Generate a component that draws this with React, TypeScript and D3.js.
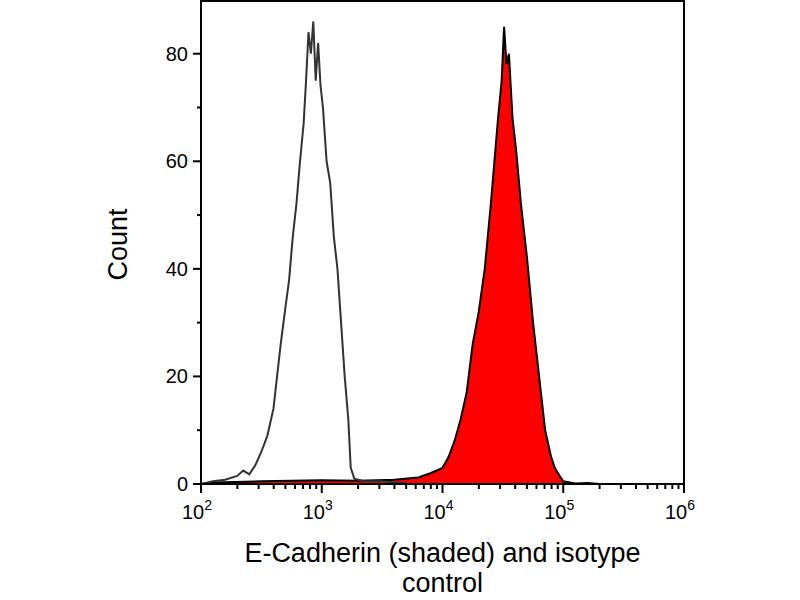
import * as d3 from "d3"

// log10(intensity), count
const isotypeLog = [2.0, 2.1, 2.2, 2.3, 2.35, 2.4, 2.45, 2.5, 2.55, 2.6, 2.63, 2.66, 2.7, 2.73, 2.76, 2.79, 2.82, 2.85, 2.87, 2.89, 2.91, 2.93, 2.95, 2.97, 2.99, 3.01, 3.04, 3.07, 3.1, 3.13, 3.16, 3.19, 3.22, 3.24, 3.27, 3.35, 3.5, 3.6, 3.7]
const isotypeCount = [0, 0.5, 0.8, 1.5, 2.5, 1.8, 3.5, 6, 9, 14, 20, 26, 33, 38, 46, 52, 60, 67, 75, 84, 80, 86, 75, 82, 74, 70, 60, 56, 46, 40, 30, 20, 12, 3, 1, 0.5, 0.5, 0.3, 0.2]

const ecadLog = [2.0, 2.1, 2.5, 3.0, 3.3, 3.6, 3.8, 3.9, 4.0, 4.05, 4.1, 4.15, 4.2, 4.25, 4.3, 4.35, 4.4, 4.43, 4.46, 4.49, 4.51, 4.53, 4.55, 4.58, 4.61, 4.65, 4.7, 4.75, 4.8, 4.85, 4.9, 4.93, 4.97, 5.0, 5.1, 5.2, 5.3]
const ecadCount = [0, 0.3, 0.5, 0.7, 0.6, 0.8, 1.2, 2, 3, 5, 8, 12, 17, 26, 32, 40, 52, 60, 68, 75, 85, 78, 80, 68, 62, 52, 42, 30, 20, 10, 5, 3, 1.5, 0.5, 0.1, 0.2, 0]

const yTicks = [0, 20, 40, 60, 80]
const yMinor = [10, 30, 50, 70]
const xDecades = [2, 3, 4, 5, 6]

const W = 800, H = 600
const L = 201, R = 684, T = 1, B = 484
const font = "Liberation Sans, Arial, sans-serif"

export default function App() {
  const x = d3.scaleLinear().domain([2, 6]).range([L, R])
  const y = d3.scaleLinear().domain([0, 89.8]).range([B, T])
  const iso = isotypeLog.map((v, i) => [v, isotypeCount[i]] as [number, number])
  const ecad = ecadLog.map((v, i) => [v, ecadCount[i]] as [number, number])
  const line = d3.line<[number, number]>().x(d => x(d[0])).y(d => y(d[1]))
  const area = d3.area<[number, number]>().x(d => x(d[0])).y0(B).y1(d => y(d[1]))
  const minor: number[] = []
  xDecades.slice(0, -1).forEach(d => { for (let k = 2; k < 10; k++) minor.push(d + Math.log10(k)) })

  return (
    <svg width={W} height={H} style={{ position: "absolute", left: 0, top: 0, background: "#fff" }}>
      <path d={area(ecad) || ""} fill="#ff0000" />
      <path d={line(ecad) || ""} fill="none" stroke="#000" strokeWidth={2} />
      <path d={line(iso) || ""} fill="none" stroke="#333" strokeWidth={2} />
      <rect x={L} y={T} width={R - L} height={B - T} fill="none" stroke="#000" strokeWidth={2} />
      {yTicks.map(t => (
        <g key={t}>
          <line x1={L - 8} x2={L} y1={y(t)} y2={y(t)} stroke="#000" strokeWidth={2} />
          <text x={L - 13} y={y(t) + 7} textAnchor="end" fontFamily={font} fontSize={20}>{t}</text>
        </g>
      ))}
      {yMinor.map(t => <line key={t} x1={L - 4} x2={L} y1={y(t)} y2={y(t)} stroke="#000" strokeWidth={2} />)}
      {xDecades.map(d => (
        <g key={d}>
          <line x1={x(d)} x2={x(d)} y1={B} y2={B + 9} stroke="#000" strokeWidth={2} />
          <text x={x(d) - 4} y={B + 35} textAnchor="middle" fontFamily={font} fontSize={20}>
            10<tspan fontSize={14} dy={-9}>{d}</tspan>
          </text>
        </g>
      ))}
      {minor.map(m => <line key={m} x1={x(m)} x2={x(m)} y1={B} y2={B + 5} stroke="#000" strokeWidth={2} />)}
      <text transform={`translate(127,${(T + B) / 2 + 2}) rotate(-90)`} textAnchor="middle" fontFamily={font} fontSize={27}>Count</text>
      <text x={(L + R) / 2} y={562} textAnchor="middle" fontFamily={font} fontSize={27}>E-Cadherin (shaded) and isotype</text>
      <text x={(L + R) / 2} y={592} textAnchor="middle" fontFamily={font} fontSize={27}>control</text>
    </svg>
  )
}
